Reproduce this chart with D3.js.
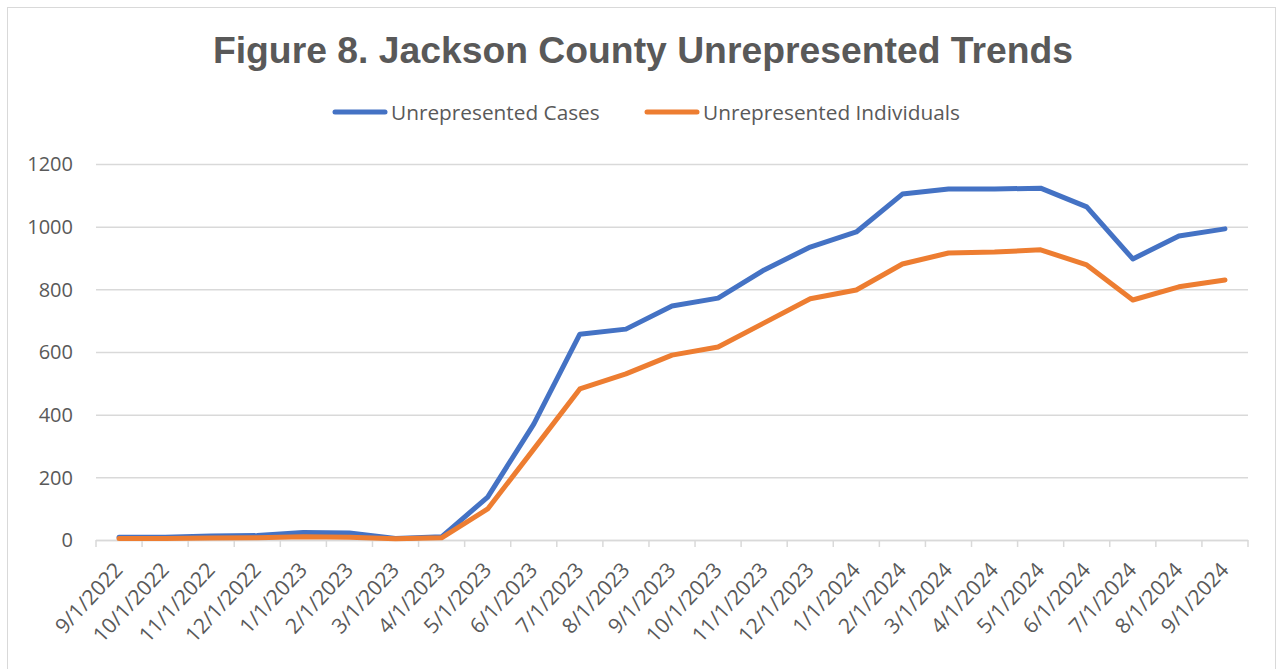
<!DOCTYPE html>
<html><head><meta charset="utf-8">
<script src="https://cdn.jsdelivr.net/npm/d3@7"></script>
<style>html,body{margin:0;padding:0;background:#fff;}svg{display:block;}</style>
</head><body>
<script>
const categories = ["9/1/2022","10/1/2022","11/1/2022","12/1/2022","1/1/2023","2/1/2023","3/1/2023","4/1/2023","5/1/2023","6/1/2023","7/1/2023","8/1/2023","9/1/2023","10/1/2023","11/1/2023","12/1/2023","1/1/2024","2/1/2024","3/1/2024","4/1/2024","5/1/2024","6/1/2024","7/1/2024","8/1/2024","9/1/2024"];
const unrepresentedCases = [9,9,13,14,24,22,5,10,137,370,657,673,747,772,862,935,983,1104,1120,1120,1123,1063,897,970,993];
const unrepresentedIndividuals = [5,5,6,7,10,9,4,7,99,290,482,530,590,616,693,770,798,881,916,919,926,878,766,808,830];
const yTicks = [0,200,400,600,800,1000,1200];
const seriesNames = ["Unrepresented Cases","Unrepresented Individuals"];
const seriesColors = ["#4472C4","#ED7D31"];

const W = 1279, H = 669;
const FONT = "'Open Sans', 'Noto Sans', sans-serif";
const svg = d3.select("body").append("svg").attr("width", W).attr("height", H);
svg.append("rect").attr("x",7.5).attr("y",7.5).attr("width",1268).attr("height",670)
  .attr("fill","#fff").attr("stroke","#D9D9D9").attr("stroke-width",1);

const pLeft = 96, pRight = 1248, pTop = 164, pBottom = 540;
const x = d3.scaleBand().domain(categories).range([pLeft, pRight]);
const y = d3.scaleLinear().domain([0,1200]).range([pBottom, pTop]);

// gridlines
svg.append("g").selectAll("line").data(yTicks).join("line")
  .attr("x1", pLeft).attr("x2", pRight)
  .attr("y1", d => y(d)+0.5).attr("y2", d => y(d)+0.5)
  .attr("stroke", "#D9D9D9").attr("stroke-width", 1.5);

// y labels
svg.append("g").selectAll("text").data(yTicks).join("text")
  .attr("x", 73).attr("y", d => y(d)).attr("dy","0.36em")
  .attr("text-anchor","end").attr("fill","#595959")
  .attr("font-family",FONT).attr("font-size",20)
  .text(d => d);

// x axis
const gx = svg.append("g").attr("transform",`translate(0,${pBottom})`);
gx.append("line").attr("x1",pLeft).attr("x2",pRight).attr("y1",0.5).attr("y2",0.5)
  .attr("stroke","#D9D9D9").attr("stroke-width",1.5);
const bounds = categories.map(c => x(c)).concat([x(categories[categories.length-1]) + x.bandwidth()]);
gx.selectAll("line.tk").data(bounds).join("line").attr("class","tk")
  .attr("x1", d => d).attr("x2", d => d).attr("y1", 0).attr("y2", 7)
  .attr("stroke","#D9D9D9").attr("stroke-width",1.5);

svg.append("g").selectAll("text").data(categories).join("text")
  .attr("transform", d => `translate(${x(d)+x.bandwidth()/2+5},${pBottom+31}) rotate(-47)`)
  .attr("text-anchor","end")
  .attr("fill","#595959").attr("font-family",FONT).attr("font-size",21)
  .text(d => d);

// lines
const line = d3.line().x((d,i) => x(categories[i]) + x.bandwidth()/2).y(d => y(d));
[unrepresentedCases, unrepresentedIndividuals].forEach((s, k) => {
  svg.append("path").datum(s).attr("d", line).attr("fill","none")
    .attr("stroke", seriesColors[k]).attr("stroke-width", 5)
    .attr("stroke-linejoin","round").attr("stroke-linecap","round");
});

// title
svg.append("text").attr("x", 643).attr("y", 63).attr("text-anchor","middle")
  .attr("font-family","'Liberation Sans', Arial, sans-serif").attr("font-weight","bold")
  .attr("font-size",37.3).attr("fill","#595959")
  .text("Figure 8. Jackson County Unrepresented Trends");

// legend
const legX = [335, 647];
seriesNames.forEach((n,k) => {
  const g = svg.append("g").attr("transform",`translate(${legX[k]},112)`);
  g.append("line").attr("x1",0).attr("x2",50).attr("y1",0).attr("y2",0)
    .attr("stroke",seriesColors[k]).attr("stroke-width",5).attr("stroke-linecap","round");
  g.append("text").attr("x",56).attr("y",0).attr("dy","0.36em")
    .attr("fill","#595959").attr("font-family",FONT).attr("font-size",20.8)
    .text(n);
});
</script>
</body></html>
